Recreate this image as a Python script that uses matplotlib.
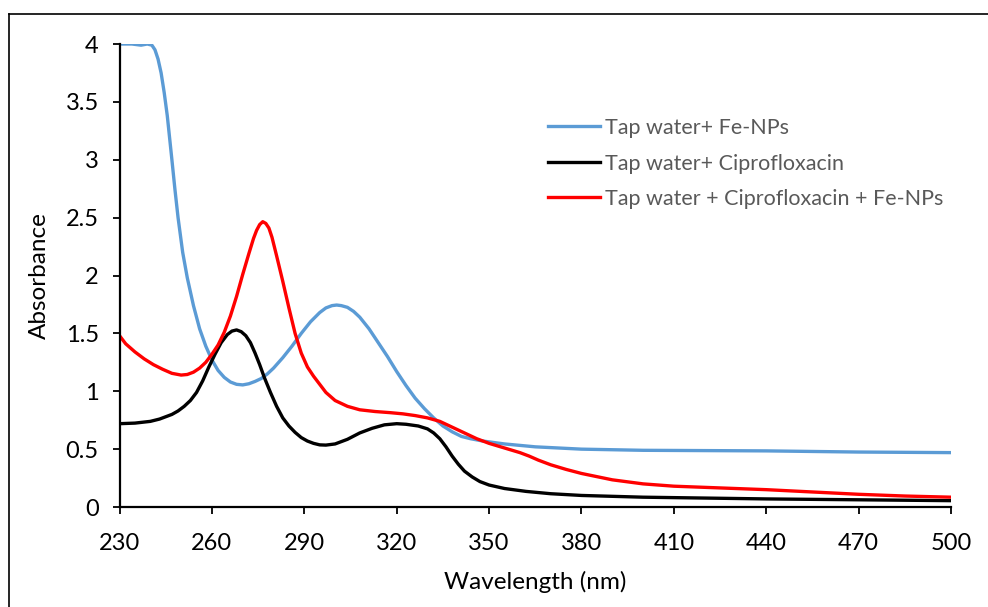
import matplotlib
matplotlib.use("Agg")
import matplotlib.pyplot as plt
from matplotlib.lines import Line2D

plt.rcParams['font.family'] = ['Lato', 'DejaVu Sans']

# Tap water + Fe-NPs
wl_blue = [230, 234, 237, 239, 240.5, 241.5, 242.5, 243.5, 244.5, 245.5, 247, 248, 249, 250.5, 252,
           254, 256, 258, 260, 262, 264, 266, 268, 270, 272, 274, 276, 278, 280, 283, 286, 289,
           292, 295, 297, 299, 300.5, 302, 304, 306, 308, 311, 314, 317, 320, 323, 326, 329,
           332, 335, 338, 341, 344, 348, 355, 365, 380, 400, 440, 470, 500]
abs_blue = [4.0, 4.0, 3.99, 4.0, 3.99, 3.95, 3.87, 3.75, 3.58, 3.38, 3.0, 2.74, 2.5, 2.2, 1.98,
            1.74, 1.54, 1.39, 1.27, 1.18, 1.12, 1.08, 1.06, 1.055, 1.065, 1.085, 1.11, 1.15, 1.2, 1.29, 1.39, 1.5,
            1.6, 1.68, 1.72, 1.74, 1.745, 1.74, 1.725, 1.69, 1.64, 1.54, 1.42, 1.3, 1.17, 1.05, 0.94, 0.85,
            0.77, 0.7, 0.65, 0.61, 0.59, 0.57, 0.545, 0.52, 0.50, 0.49, 0.485, 0.475, 0.47]

# Tap water + Ciprofloxacin
wl_black = [230, 235, 240, 243, 245, 247, 249, 251, 253, 255, 257, 259, 261, 263, 265, 266.5, 268, 269.5,
            271, 272.5, 274, 275.5, 277, 279, 281, 283, 285, 287, 289, 291, 293, 295, 297, 300,
            304, 308, 312, 316, 320, 323, 327, 330, 332, 334, 336, 338, 340, 342, 344.5, 347,
            350, 355, 362, 370, 380, 400, 440, 500]
abs_black = [0.72, 0.725, 0.74, 0.76, 0.78, 0.80, 0.83, 0.87, 0.92, 0.99, 1.09, 1.21, 1.32, 1.42, 1.49, 1.52, 1.53, 1.515,
             1.48, 1.42, 1.33, 1.23, 1.12, 0.99, 0.87, 0.77, 0.70, 0.645, 0.6, 0.57, 0.55, 0.537, 0.535, 0.545,
             0.585, 0.64, 0.68, 0.71, 0.72, 0.715, 0.70, 0.675, 0.64, 0.59, 0.52, 0.44, 0.37, 0.31, 0.26, 0.22,
             0.19, 0.16, 0.135, 0.115, 0.10, 0.085, 0.07, 0.055]

# Tap water + Ciprofloxacin + Fe-NPs
wl_red = [230, 232, 235, 238, 241, 244, 247, 250, 252, 254, 256, 258, 260, 262, 264, 266, 268,
          270, 272, 273.5, 274.5, 275.5, 276.5, 277.5, 278.5, 279.5, 281, 283, 285, 287, 289, 291,
          293, 295, 297, 300, 304, 308, 313, 318, 322, 326, 330, 334, 338, 342, 346, 350, 355,
          360, 363, 366, 370, 375, 380, 390, 400, 410, 425, 440, 455, 470, 485, 500]
abs_red = [1.48, 1.41, 1.34, 1.28, 1.23, 1.19, 1.155, 1.14, 1.145, 1.165, 1.2, 1.25, 1.32, 1.40, 1.51, 1.65, 1.82,
           2.01, 2.19, 2.32, 2.39, 2.44, 2.465, 2.45, 2.41, 2.33, 2.17, 1.95, 1.72, 1.50, 1.33, 1.21,
           1.13, 1.06, 0.99, 0.92, 0.87, 0.84, 0.825, 0.815, 0.805, 0.79, 0.77, 0.74, 0.69, 0.64, 0.59, 0.55, 0.51,
           0.47, 0.44, 0.405, 0.365, 0.325, 0.29, 0.235, 0.20, 0.18, 0.165, 0.15, 0.13, 0.11, 0.095, 0.085]

x_ticks = [230, 260, 290, 320, 350, 380, 410, 440, 470, 500]
y_ticks = [0, 0.5, 1, 1.5, 2, 2.5, 3, 3.5, 4]
y_labels = ['0', '0.5', '1', '1.5', '2', '2.5', '3', '3.5', '4']

fig = plt.figure(figsize=(9.88, 6.07), dpi=100)
ax = fig.add_axes([0.121, 0.1647, 0.8416, 0.7628])

ax.plot(wl_blue, abs_blue, color='#5B9BD5', lw=2.4, label='Tap water+ Fe-NPs')
ax.plot(wl_black, abs_black, color='black', lw=2.4, label='Tap water+ Ciprofloxacin')
ax.plot(wl_red, abs_red, color='#FF0000', lw=2.4, label='Tap water + Ciprofloxacin + Fe-NPs')

ax.set_xlim(230, 500)
ax.set_ylim(0, 4)
ax.set_xticks(x_ticks)
ax.set_yticks(y_ticks)
ax.set_yticklabels(y_labels)
ax.spines['top'].set_visible(False)
ax.spines['right'].set_visible(False)
ax.spines['left'].set_linewidth(1.6)
ax.spines['bottom'].set_linewidth(1.6)
ax.tick_params(direction='out', length=5, width=1.3, labelsize=17)
ax.tick_params(axis='x', pad=14)
ax.tick_params(axis='y', pad=10)
ax.set_xlabel('Wavelength (nm)', fontsize=17.5, labelpad=12)
ax.set_ylabel('Absorbance', fontsize=17.5, labelpad=11)

leg = ax.legend(loc='upper left', bbox_to_anchor=(548 / 988, 1 - 118 / 607),
                bbox_transform=fig.transFigure, frameon=False, fontsize=15.5,
                handlelength=2.4, handletextpad=0.25, labelspacing=0.72,
                borderpad=0, borderaxespad=0)
for t in leg.get_texts():
    t.set_color('#595959')

# outer chart frame (cropped at right and bottom)
fig.add_artist(Line2D([9 / 988, 9 / 988], [0, 1 - 14 / 607], color='black', lw=1.2,
                      transform=fig.transFigure))
fig.add_artist(Line2D([9 / 988, 1], [1 - 14 / 607, 1 - 14 / 607], color='black', lw=1.2,
                      transform=fig.transFigure))

fig.savefig('out.png', dpi=100)
